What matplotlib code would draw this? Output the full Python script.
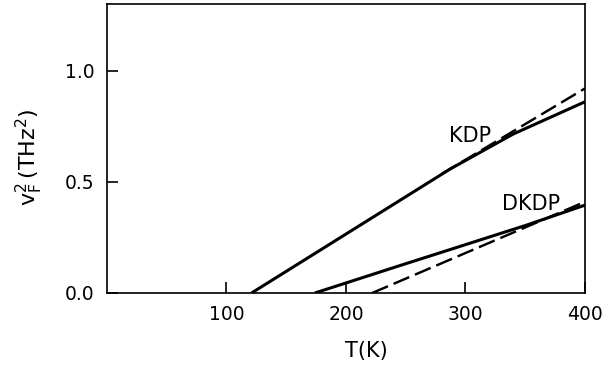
import matplotlib.pyplot as plt

# KDP: measured (solid) and linear extrapolation (dashed)
kdp_T = [121, 200, 287, 340, 400]
kdp_v = [0.0, 0.265, 0.557, 0.715, 0.86]
kdp_lin_T = [280, 400]
kdp_lin_v = [0.535, 0.92]

# DKDP: measured (solid) and linear extrapolation (dashed)
dkdp_T = [174, 200, 245, 287, 351, 400]
dkdp_v = [0.0, 0.045, 0.123, 0.195, 0.305, 0.395]
dkdp_lin_T = [222, 400]
dkdp_lin_v = [0.0, 0.41]

xticks = [100, 200, 300, 400]
yticks = [0.0, 0.5, 1.0]

plt.rcParams['font.family'] = ['DejaVu Sans']
plt.rcParams['mathtext.fontset'] = 'dejavusans'

fig = plt.figure(figsize=(6.13, 3.66), dpi=100)
ax = fig.add_axes([0.1746, 0.1995, 0.7795, 0.7895])

lw = 2.2
ax.plot(kdp_T, kdp_v, color='black', lw=lw, solid_capstyle='butt')
ax.plot(kdp_lin_T, kdp_lin_v, color='black', lw=lw * 0.8, dashes=(7, 2.5))
ax.plot(dkdp_T, dkdp_v, color='black', lw=lw, solid_capstyle='butt')
ax.plot(dkdp_lin_T, dkdp_lin_v, color='black', lw=lw * 0.8, dashes=(7, 2.5))

ax.text(304, 0.705, 'KDP', fontsize=15, ha='center', va='center')
ax.text(355, 0.40, 'DKDP', fontsize=15, ha='center', va='center')

ax.set_xlim(0, 400)
ax.set_ylim(0, 1.3)
ax.set_xticks(xticks)
ax.set_yticks(yticks)
ax.set_xticklabels([str(t) for t in xticks])
ax.set_yticklabels(['%.1f' % t for t in yticks])
ax.tick_params(direction='in', length=8, width=1.2, labelsize=13.5, pad=9)

for s in ax.spines.values():
    s.set_linewidth(1.2)

ax.set_xlabel('T(K)', fontsize=15)
ax.xaxis.set_label_coords(0.542, -0.165)
ax.set_ylabel(r'$\mathrm{v}_\mathrm{F}^2\,$(THz$^2$)', fontsize=16)
ax.yaxis.set_label_coords(-0.13, 0.47)

fig.savefig('out.png', dpi=100)
